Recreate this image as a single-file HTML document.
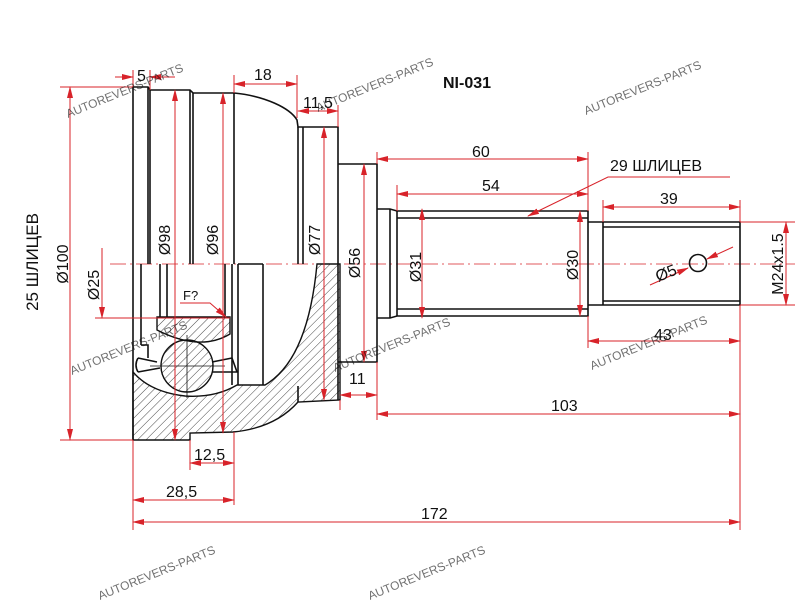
<!DOCTYPE html>
<html><head><meta charset="utf-8"><style>
html,body{margin:0;padding:0;background:#fff;width:800px;height:600px;overflow:hidden}
svg{display:block}
text{font-family:"Liberation Sans",sans-serif;fill:#111}
.r{stroke:#d8232a;stroke-width:1;fill:none}
.k{stroke:#111;stroke-width:1.6;fill:none}
.wm{font-family:"Liberation Sans",sans-serif;fill:#8fc3ea;font-size:12px;opacity:.6}
</style></head><body>
<svg width="800" height="600" viewBox="0 0 800 600" xmlns="http://www.w3.org/2000/svg">
<defs>
<pattern id="h" width="6" height="6" patternUnits="userSpaceOnUse" patternTransform="rotate(45)">
<line x1="0" y1="0" x2="0" y2="6" stroke="#333" stroke-width="0.9"/></pattern>
<marker id="a" markerWidth="12" markerHeight="6" refX="11" refY="3" orient="auto-start-reverse" markerUnits="userSpaceOnUse">
<path d="M0,0 L12,3 L0,6 Z" fill="#d8232a"/></marker>
</defs>

<line x1="110" y1="264" x2="795" y2="264" stroke="#d8232a" stroke-width="0.8" stroke-dasharray="16,4,2,4"/>

<!-- hatched lower sections -->
<path d="M133,372 Q150,392 185,396 Q215,398 237,385 L265,385 Q308,360 317,264 L340,264 L340,400 L298,402 Q275,428 233,432 L190,433 L190,440 L133,440 Z" fill="url(#h)" stroke="#111" stroke-width="1.4"/>
<path d="M157,317 L230,317 L230,334 Q200,352 157,330 Z" fill="url(#h)" stroke="#111" stroke-width="1.4"/>
<circle cx="187" cy="366" r="26" fill="url(#h)" stroke="#111" stroke-width="1.4"/>
<path d="M138,358 L157,362 M138,372 L160,368 M138,358 Q134,365 138,372 M212,362 L232,358 L237,372 L212,372" class="k" stroke-width="1.2"/>
<line x1="150" y1="366" x2="225" y2="366" stroke="#111" stroke-width="0.8"/>
<line x1="187" y1="335" x2="187" y2="398" stroke="#111" stroke-width="0.8"/>

<!-- body outline -->
<path class="k" d="M133,440 L133,87 L148,87 L150,90 L190,90 L193,93 L234,93 C265,96 290,108 297,120 L298,127 L338,127 L338,400"/>
<line class="k" x1="298" y1="127" x2="298" y2="264"/>
<line class="k" x1="303" y1="127" x2="303" y2="264"/>
<line class="k" x1="298" y1="386" x2="298" y2="402"/>
<line class="k" x1="148" y1="87" x2="148" y2="264"/>
<line class="k" x1="150" y1="90" x2="150" y2="264"/>
<line class="k" x1="190" y1="90" x2="190" y2="264"/>
<line class="k" x1="193" y1="93" x2="193" y2="264"/>
<line class="k" x1="234" y1="93" x2="234" y2="264"/>
<line class="k" x1="141" y1="264" x2="141" y2="345"/>
<line class="k" x1="160" y1="264" x2="160" y2="317"/>
<line class="k" x1="167" y1="264" x2="167" y2="317"/>
<line class="k" x1="225" y1="264" x2="225" y2="317"/>
<line class="k" x1="232" y1="264" x2="232" y2="385"/>
<line class="k" x1="238" y1="264" x2="238" y2="385"/>
<line class="k" x1="263" y1="264" x2="263" y2="385"/>
<line class="k" x1="238" y1="264" x2="263" y2="264"/>
<path class="k" d="M141,345 L148,345 L148,358"/>

<path class="k" d="M338,164 L377,164 L377,362 L338,362"/>
<path class="k" d="M377,209 L390,209 L397,211 L588,211 L588,316 L397,316 L390,318 L377,318"/>
<line class="k" x1="390" y1="209" x2="390" y2="318"/>
<line class="k" x1="397" y1="211" x2="397" y2="316"/>
<line class="k" x1="397" y1="218" x2="588" y2="218"/>
<line class="k" x1="397" y1="309" x2="588" y2="309"/>
<path class="k" d="M588,222 L740,222 L740,305 L588,305"/>
<line class="k" x1="603" y1="222" x2="603" y2="305"/>
<line class="k" x1="603" y1="227" x2="740" y2="227"/>
<line class="k" x1="603" y1="301" x2="740" y2="301"/>
<circle cx="698" cy="263" r="8.5" class="k" stroke-width="1.3"/>

<g class="r">
<line x1="133" y1="87" x2="133" y2="70"/><line x1="150" y1="90" x2="150" y2="70"/>
<line x1="115" y1="77" x2="133" y2="77" marker-end="url(#a)"/>
<line x1="175" y1="77" x2="150" y2="77" marker-end="url(#a)"/>
<line x1="234" y1="93" x2="234" y2="75"/><line x1="297" y1="118" x2="297" y2="75"/>
<line x1="234" y1="84" x2="297" y2="84" marker-start="url(#a)" marker-end="url(#a)"/>
<line x1="338" y1="127" x2="338" y2="105"/>
<line x1="298" y1="111" x2="338" y2="111" marker-start="url(#a)" marker-end="url(#a)"/>
<line x1="377" y1="164" x2="377" y2="152"/><line x1="588" y1="211" x2="588" y2="152"/>
<line x1="377" y1="159" x2="588" y2="159" marker-start="url(#a)" marker-end="url(#a)"/>
<line x1="397" y1="211" x2="397" y2="185"/>
<line x1="397" y1="194" x2="588" y2="194" marker-start="url(#a)" marker-end="url(#a)"/>
<line x1="603" y1="222" x2="603" y2="200"/><line x1="740" y1="222" x2="740" y2="200"/>
<line x1="603" y1="207" x2="740" y2="207" marker-start="url(#a)" marker-end="url(#a)"/>
<polyline points="730,177 608,177 528,216" marker-end="url(#a)"/>
<line x1="740" y1="222" x2="795" y2="222"/><line x1="740" y1="305" x2="795" y2="305"/>
<line x1="786" y1="222" x2="786" y2="305" marker-start="url(#a)" marker-end="url(#a)"/>
<line x1="650" y1="285" x2="688" y2="268" marker-end="url(#a)"/>
<line x1="733" y1="247" x2="707" y2="259" marker-end="url(#a)"/>
<line x1="588" y1="316" x2="588" y2="348"/><line x1="740" y1="305" x2="740" y2="530"/>
<line x1="588" y1="341" x2="740" y2="341" marker-start="url(#a)" marker-end="url(#a)"/>
<line x1="377" y1="362" x2="377" y2="420"/>
<line x1="340" y1="400" x2="340" y2="410"/>
<line x1="340" y1="395" x2="377" y2="395" marker-start="url(#a)" marker-end="url(#a)"/>
<line x1="377" y1="414" x2="740" y2="414" marker-start="url(#a)" marker-end="url(#a)"/>
<line x1="133" y1="440" x2="133" y2="530"/>
<line x1="133" y1="522" x2="740" y2="522" marker-start="url(#a)" marker-end="url(#a)"/>
<line x1="190" y1="440" x2="190" y2="470"/><line x1="234" y1="432" x2="234" y2="505"/>
<line x1="190" y1="463" x2="234" y2="463" marker-start="url(#a)" marker-end="url(#a)"/>
<line x1="133" y1="500" x2="234" y2="500" marker-start="url(#a)" marker-end="url(#a)"/>
<line x1="60" y1="87" x2="133" y2="87"/><line x1="60" y1="440" x2="133" y2="440"/>
<line x1="70" y1="87" x2="70" y2="440" marker-start="url(#a)" marker-end="url(#a)"/>
<line x1="102" y1="248" x2="102" y2="318" marker-end="url(#a)"/>
<line x1="95" y1="318" x2="230" y2="318"/>
<line x1="175" y1="90" x2="175" y2="440" marker-start="url(#a)" marker-end="url(#a)"/>
<line x1="223" y1="93" x2="223" y2="433" marker-start="url(#a)" marker-end="url(#a)"/>
<line x1="324" y1="127" x2="324" y2="400" marker-start="url(#a)" marker-end="url(#a)"/>
<line x1="364" y1="164" x2="364" y2="362" marker-start="url(#a)" marker-end="url(#a)"/>
<line x1="422" y1="209" x2="422" y2="318" marker-start="url(#a)" marker-end="url(#a)"/>
<line x1="580" y1="211" x2="580" y2="316" marker-start="url(#a)" marker-end="url(#a)"/>
<polyline points="180,303 210,303 226,317" marker-end="url(#a)"/>
</g>

<g font-size="16">
<text x="137" y="81">5</text>
<text x="254" y="80">18</text>
<text x="303" y="108">11,5</text>
<text x="472" y="157">60</text>
<text x="482" y="191">54</text>
<text x="660" y="204">39</text>
<text x="610" y="171">29 ШЛИЦЕВ</text>
<text x="654" y="340">43</text>
<text x="551" y="411">103</text>
<text x="349" y="384">11</text>
<text x="421" y="519">172</text>
<text x="194" y="460">12,5</text>
<text x="166" y="497">28,5</text>
<text x="183" y="300" font-size="13">F?</text>
<text transform="translate(668,278) rotate(-22)" text-anchor="middle">Ø5</text>
<text transform="translate(783,264) rotate(-90)" text-anchor="middle">M24x1.5</text>
<text transform="translate(68,264) rotate(-90)" text-anchor="middle">Ø100</text>
<text transform="translate(38,262) rotate(-90)" text-anchor="middle" font-size="17">25 ШЛИЦЕВ</text>
<text transform="translate(99,285) rotate(-90)" text-anchor="middle">Ø25</text>
<text transform="translate(170,240) rotate(-90)" text-anchor="middle">Ø98</text>
<text transform="translate(218,240) rotate(-90)" text-anchor="middle">Ø96</text>
<text transform="translate(320,240) rotate(-90)" text-anchor="middle">Ø77</text>
<text transform="translate(360,263) rotate(-90)" text-anchor="middle">Ø56</text>
<text transform="translate(421,267) rotate(-90)" text-anchor="middle">Ø31</text>
<text transform="translate(578,265) rotate(-90)" text-anchor="middle">Ø30</text>
</g>
<text x="443" y="88" font-size="16" font-weight="bold">NI-031</text>

<g class="wm">
<text transform="translate(68,118) rotate(-22)">AUTOREVERS-PARTS</text>
<text transform="translate(318,112) rotate(-22)">AUTOREVERS-PARTS</text>
<text transform="translate(586,115) rotate(-22)">AUTOREVERS-PARTS</text>
<text transform="translate(72,375) rotate(-22)">AUTOREVERS-PARTS</text>
<text transform="translate(335,372) rotate(-22)">AUTOREVERS-PARTS</text>
<text transform="translate(592,370) rotate(-22)">AUTOREVERS-PARTS</text>
<text transform="translate(100,600) rotate(-22)">AUTOREVERS-PARTS</text>
<text transform="translate(370,600) rotate(-22)">AUTOREVERS-PARTS</text>
</g>
</svg>
</body></html>
